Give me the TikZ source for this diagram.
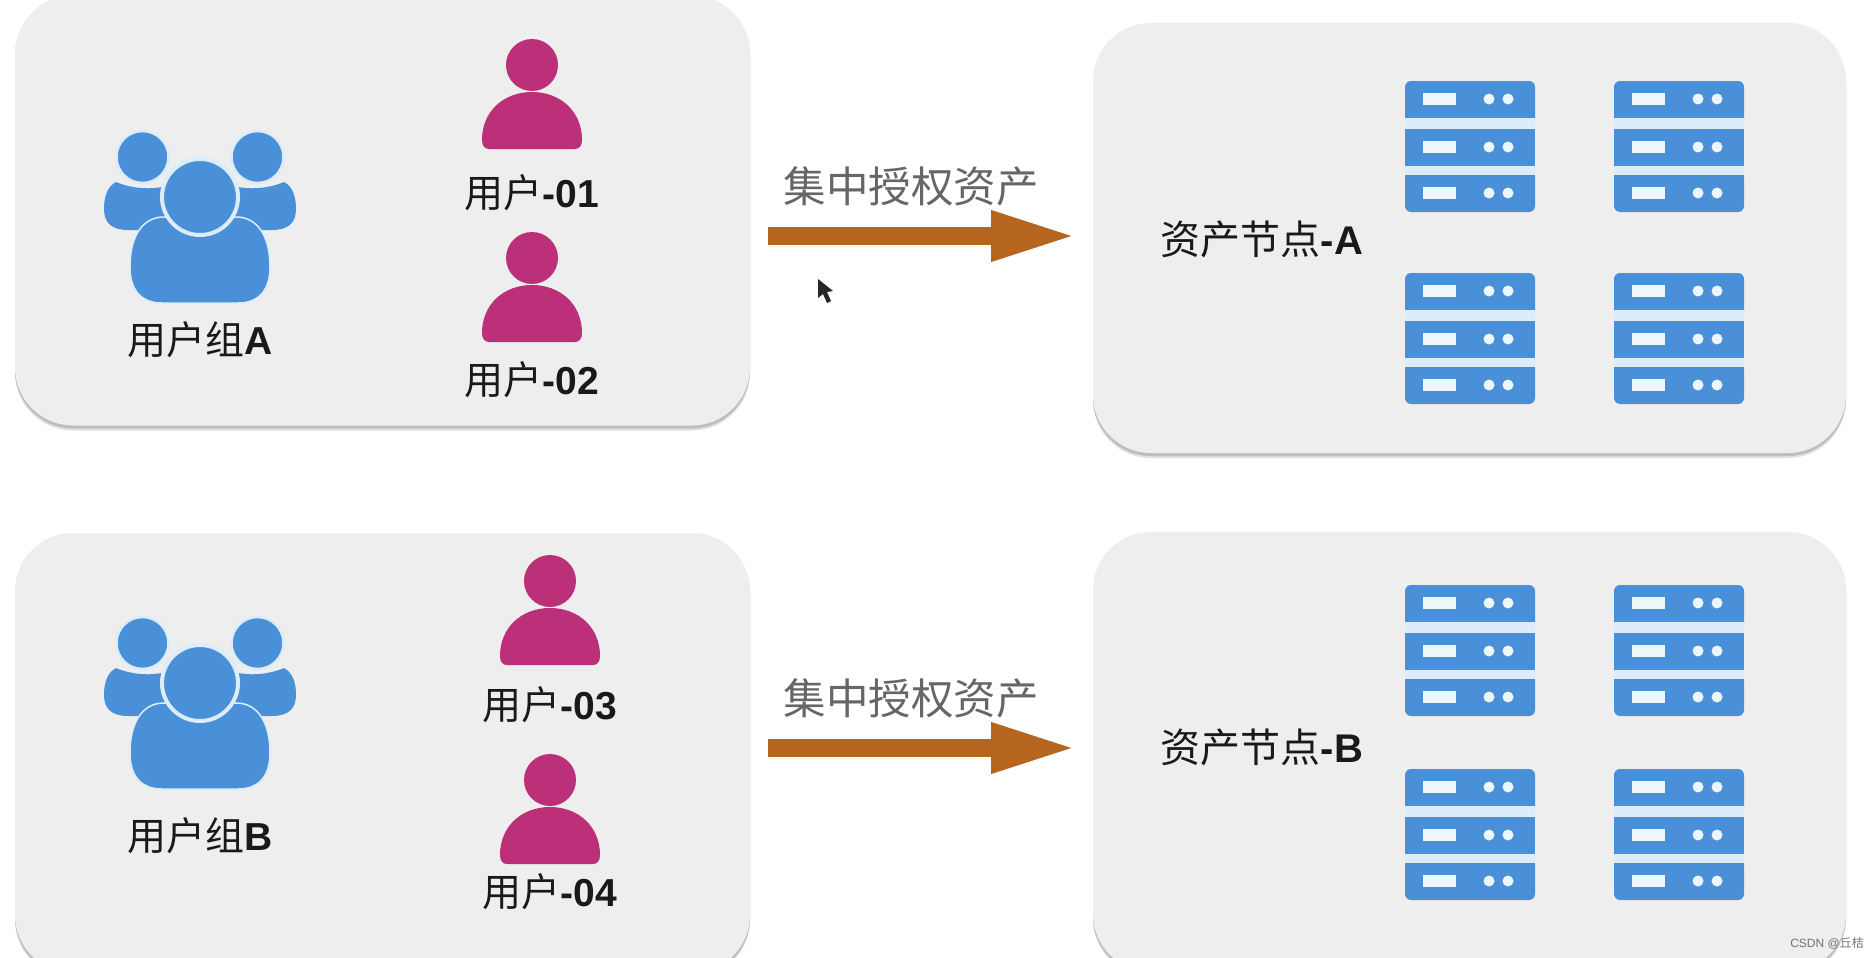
\documentclass[tikz,border=0pt]{standalone}
\usepackage{fontspec}
\usetikzlibrary{shadows,arrows.meta}
\setmainfont{Liberation Sans}
\newfontfamily\cjkfont{Noto Sans CJK SC}
\definecolor{panelgray}{HTML}{EEEEEE}
\definecolor{iconblue}{HTML}{4A90D9}
\definecolor{halo}{HTML}{DCECF8}
\definecolor{usermag}{HTML}{BC2F79}
\definecolor{arrowbrown}{HTML}{B5651D}
\newcommand{\cj}[1]{{\cjkfont #1}}
\tikzset{
  x=1pt,y=-1pt,
  panel/.style={fill=panelgray,rounded corners=58pt,inner sep=0pt,minimum width=735pt,
    general shadow={shadow yshift=-5pt,fill=black!12},
    general shadow={shadow yshift=-3pt,fill=black!26}},
  panelr/.style={panel,minimum width=753pt},
  lbl/.style={inner sep=0pt,text=black!90,font=\fontsize{39}{39}\selectfont},
  lblr/.style={inner sep=0pt,text=black!90,font=\fontsize{40}{40}\selectfont},
  arrowlbl/.style={inner sep=0pt,text=black!60,font=\fontsize{42.5}{42.5}\selectfont\cjkfont},
  bigarrow/.style={draw=arrowbrown,line width=18pt,-{Triangle[length=86pt,width=46pt]}},
  person/.pic={
    \fill[usermag] (0,1) circle[radius=26pt];
    \fill[usermag] (-50,76) .. controls (-50,47) and (-28,28) .. (0,28)
      .. controls (28,28) and (50,47) .. (50,76)
      .. controls (50,82) and (47,85) .. (43,85) -- (-43,85)
      .. controls (-47,85) and (-50,82) .. (-50,76) -- cycle;
  },
  group/.pic={
    \foreach \s in {-1,1}{
      \fill[iconblue] (\s*84,-15) .. controls (\s*70,-9) and (\s*50,-6) .. (\s*30,-12) -- (\s*30,33)
        -- (\s*72,33) .. controls (\s*88,33) and (\s*96,26) .. (\s*96,12)
        .. controls (\s*96,0) and (\s*93,-10) .. (\s*84,-15) -- cycle;
      \filldraw[fill=iconblue,draw=halo,line width=2.5pt] (\s*57.5,-40) circle[radius=26pt];
    }
    \filldraw[fill=iconblue,draw=halo,line width=1.5pt]
      (-70,70) .. controls (-70,40) and (-58,20) .. (-36,20)
      -- (36,20)
      .. controls (58,20) and (70,40) .. (70,70)
      .. controls (70,94) and (58,106) .. (38,106) -- (-38,106)
      .. controls (-58,106) and (-70,94) .. (-70,70) -- cycle;
    \filldraw[fill=iconblue,draw=halo,line width=4pt] (0,0) circle[radius=38pt];
  },
  server/.pic={
    \fill[iconblue,rounded corners=6pt] (0,0) rectangle (130,44);
    \fill[iconblue] (0,20) rectangle (130,37);
    \fill[iconblue] (0,48) rectangle (130,85);
    \fill[iconblue,rounded corners=6pt] (0,90) rectangle (130,131);
    \fill[iconblue] (0,94) -- (130,94) -- (130,106) -- (0,106) -- cycle;
    \fill[halo] (0,37) rectangle (130,48);
    \fill[halo] (0,85) rectangle (130,94);
    \foreach \yy in {18,66,112}{
      \fill[halo!50!white] (18,\yy-6) rectangle (51,\yy+6);
      \fill[halo!50!white] (84,\yy) circle[radius=5.5pt];
      \fill[halo!50!white] (103,\yy) circle[radius=5.5pt];
    }
  }
}
\begin{document}
\begin{tikzpicture}
\useasboundingbox (0,0) rectangle (1876,958);
\clip (0,0) rectangle (1876,958);
\fill[white] (0,0) rectangle (1876,958);
% panels
\node[panel,minimum height=430pt] (pA) at (382.5,210.5) {};
\node[panelr,minimum height=430pt] (rA) at (1469.5,238) {};
\node[panel,minimum height=440pt] (pB) at (382.5,753) {};
\node[panelr,minimum height=440pt] (rB) at (1469.5,752) {};
% group A
\pic (gA) at (200,197) {group};
\node[lbl] (gAl) at (200,340) {\cj{用户组}\textbf{A}};
\pic (u1) at (532,64) {person};
\node[lbl] (u1l) at (532,193) {\cj{用户}\textbf{-01}};
\pic (u2) at (532,257) {person};
\node[lbl] (u2l) at (532,380) {\cj{用户}\textbf{-02}};
% group B
\pic (gB) at (200,683) {group};
\node[lbl] (gBl) at (200,836) {\cj{用户组}\textbf{B}};
\pic (u3) at (550,580) {person};
\node[lbl] (u3l) at (550,705) {\cj{用户}\textbf{-03}};
\pic (u4) at (550,779) {person};
\node[lbl] (u4l) at (550,892) {\cj{用户}\textbf{-04}};
% arrows
\coordinate (a1s) at (768,236);
\coordinate (a1e) at (1077,236);
\coordinate (a2s) at (768,748);
\coordinate (a2e) at (1077,748);
\draw[bigarrow] (a1s) -- (a1e);
\draw[bigarrow] (a2s) -- (a2e);
\node[arrowlbl] (a1l) at (911,186) {集中授权资产};
\node[arrowlbl] (a2l) at (911,698) {集中授权资产};
% cursor
\fill[black!85] (818,279) -- (818,298) -- (823,294) -- (827,303) -- (831,301) -- (827,292) -- (833,291) -- cycle;
% asset labels
\node[lblr] (rAl) at (1262,239) {\cj{资产节点}\textbf{-A}};
\node[lblr] (rBl) at (1262,747) {\cj{资产节点}\textbf{-B}};
% servers
\pic (s1) at (1405,81) {server};
\pic (s2) at (1614,81) {server};
\pic (s3) at (1405,273) {server};
\pic (s4) at (1614,273) {server};
\pic (s5) at (1405,585) {server};
\pic (s6) at (1614,585) {server};
\pic (s7) at (1405,769) {server};
\pic (s8) at (1614,769) {server};
% watermark
\node[inner sep=0pt,text=black!55,font=\fontsize{12}{12}\selectfont] (wm) at (1827,943) {CSDN @\cj{丘桔}};
\end{tikzpicture}
\end{document}
